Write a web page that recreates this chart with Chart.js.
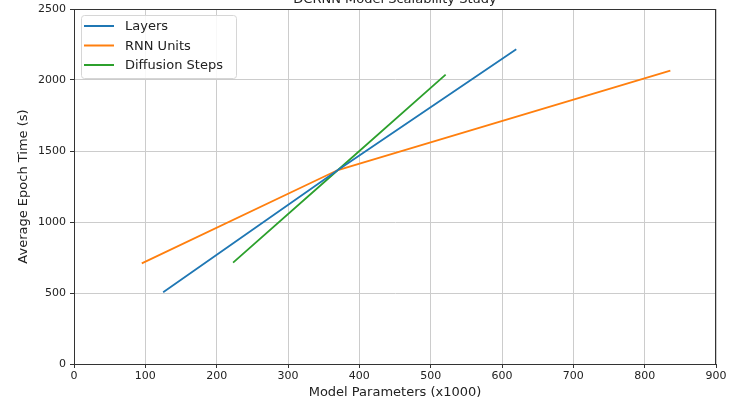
<!DOCTYPE html>
<html>
<head>
<meta charset="utf-8">
<script src="https://cdn.jsdelivr.net/npm/chart.js@4/dist/chart.umd.min.js"></script>
<style>
  html, body { margin: 0; padding: 0; background: #fff; overflow: hidden; }
  #wrap { position: absolute; left: 0; top: -22px; width: 738px; height: 423px; }
</style>
</head>
<body>
<div id="wrap"><canvas id="scaleChart"></canvas></div>
<script>
// parameter count (x1000) vs. average epoch time (s), per sweep;
// the middle point is the shared baseline configuration
const layersParams = [125, 370, 620];
const layersTime = [505, 1366, 2216];
const rnnParams = [95, 370, 836];
const rnnTime = [709, 1366, 2066];
const diffParams = [223, 370, 521];
const diffTime = [714, 1366, 2038];

const xTicks = [0, 100, 200, 300, 400, 500, 600, 700, 800, 900];
const yTicks = [0, 500, 1000, 1500, 2000, 2500];

const toPoints = (xs, ys) => xs.map((x, i) => ({ x: x, y: ys[i] }));

const FONT = "DejaVu Sans";
const INK = "#222";

// title + frame + legend drawn in the plot corner, matplotlib style
const decorations = {
  id: "decorations",
  afterDraw(chart) {
    const ctx = chart.ctx;
    const a = chart.chartArea;
    ctx.save();
    ctx.strokeStyle = "#333";
    ctx.lineWidth = 1;
    ctx.strokeRect(a.left + 0.5, a.top + 0.5, a.right - a.left - 1, a.bottom - a.top);

    ctx.fillStyle = INK;
    ctx.font = "13px '" + FONT + "'";
    ctx.textAlign = "center";
    ctx.textBaseline = "alphabetic";
    ctx.fillText("DCRNN Model Scalability Study", (a.left + a.right) / 2, a.top - 6);

    // legend box
    const bx = a.left + 7, by = a.top + 6, bw = 155, bh = 63;
    ctx.fillStyle = "rgba(255,255,255,0.85)";
    ctx.strokeStyle = "#d6d6d6";
    ctx.beginPath();
    ctx.roundRect(bx + 0.5, by + 0.5, bw, bh, 3);
    ctx.fill();
    ctx.stroke();
    ctx.textAlign = "left";
    ctx.textBaseline = "middle";
    ctx.font = "13px '" + FONT + "'";
    chart.data.datasets.forEach((ds, i) => {
      const y = by + 11 + i * 19.5;
      ctx.strokeStyle = ds.borderColor;
      ctx.lineWidth = 2;
      ctx.beginPath();
      ctx.moveTo(bx + 3, y);
      ctx.lineTo(bx + 33, y);
      ctx.stroke();
      ctx.fillStyle = INK;
      ctx.fillText(ds.label, bx + 44, y + 1);
    });
    ctx.restore();
  }
};

new Chart(document.getElementById("scaleChart"), {
  type: "line",
  data: {
    datasets: [
      { label: "Layers", data: toPoints(layersParams, layersTime), borderColor: "#1f77b4" },
      { label: "RNN Units", data: toPoints(rnnParams, rnnTime), borderColor: "#ff7f0e" },
      { label: "Diffusion Steps", data: toPoints(diffParams, diffTime), borderColor: "#2ca02c" }
    ]
  },
  options: {
    responsive: true,
    maintainAspectRatio: false,
    animation: false,
    layout: { padding: { left: 0, right: 22, top: 31, bottom: 0 } },
    elements: {
      line: { borderWidth: 1.8, tension: 0, fill: false },
      point: { radius: 0, hoverRadius: 0 }
    },
    plugins: {
      legend: { display: false },
      title: { display: false },
      tooltip: { enabled: false }
    },
    scales: {
      x: {
        type: "linear",
        min: 0,
        max: 900,
        afterBuildTicks: s => { s.ticks = xTicks.map(v => ({ value: v })); },
        afterFit: s => { s.height = 37; },
        grid: { color: "#cccccc", lineWidth: 1, tickLength: 4, tickColor: "#333" },
        border: { color: "#333", width: 1 },
        ticks: { color: INK, font: { family: FONT, size: 11 }, padding: 2, maxRotation: 0, callback: v => String(v) },
        title: {
          display: true,
          text: "Model Parameters (x1000)",
          color: INK,
          font: { family: FONT, size: 13 },
          padding: { top: 0, bottom: 1 }
        }
      },
      y: {
        type: "linear",
        min: 0,
        max: 2500,
        afterBuildTicks: s => { s.ticks = yTicks.map(v => ({ value: v })); },
        afterFit: s => { s.width = 74; },
        grid: { color: "#cccccc", lineWidth: 1, tickLength: 4, tickColor: "#333" },
        border: { color: "#333", width: 1 },
        ticks: { color: INK, font: { family: FONT, size: 11 }, padding: 4, callback: v => String(v) },
        title: {
          display: true,
          text: "Average Epoch Time (s)",
          color: INK,
          font: { family: FONT, size: 13 },
          padding: { top: 16, bottom: 0 }
        }
      }
    }
  },
  plugins: [decorations]
});
</script>
</body>
</html>
